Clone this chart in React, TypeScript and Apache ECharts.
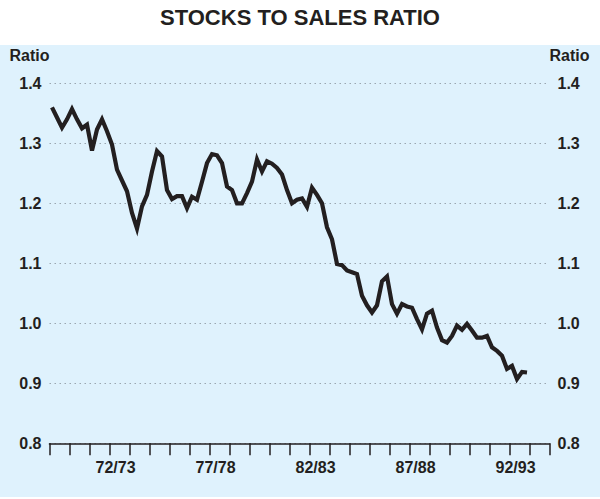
import React, { useEffect, useRef } from "react";
import * as echarts from "echarts";

// Fiscal years shown on the horizontal axis (one interval per year)
const years = [
  "69/70", "70/71", "71/72", "72/73", "73/74", "74/75", "75/76", "76/77", "77/78",
  "78/79", "79/80", "80/81", "81/82", "82/83", "83/84", "84/85", "85/86", "86/87",
  "87/88", "88/89", "89/90", "90/91", "91/92", "92/93", "93/94",
];
const labelledYears = ["72/73", "77/78", "82/83", "87/88", "92/93"];

// Quarterly stocks-to-sales ratio, starting Sep quarter 1969
const ratio = [
  1.360, 1.343, 1.326, 1.340, 1.357, 1.340, 1.325, 1.331,
  1.288, 1.323, 1.340, 1.320, 1.298, 1.256, 1.238, 1.220,
  1.184, 1.158, 1.195, 1.214, 1.253, 1.287, 1.278, 1.222,
  1.207, 1.212, 1.212, 1.192, 1.211, 1.206, 1.236, 1.267,
  1.282, 1.280, 1.267, 1.228, 1.222, 1.200, 1.200, 1.217,
  1.236, 1.273, 1.253, 1.270, 1.266, 1.259, 1.248, 1.222,
  1.200, 1.206, 1.208, 1.194, 1.226, 1.214, 1.200, 1.160,
  1.140, 1.099, 1.097, 1.088, 1.085, 1.082, 1.046, 1.030,
  1.018, 1.030, 1.070, 1.078, 1.032, 1.016, 1.032, 1.028,
  1.026, 1.007, 0.990, 1.016, 1.021, 0.993, 0.972, 0.968,
  0.979, 0.996, 0.989, 0.999, 0.988, 0.976, 0.976, 0.979,
  0.960, 0.954, 0.946, 0.924, 0.929, 0.907, 0.919, 0.918,
];

const yTicks = { min: 0.8, max: 1.4, step: 0.1 };

const FONT = "'Liberation Sans', Arial, Helvetica, sans-serif";
const INK = "#231f20";

export default function App() {
  const ref = useRef<HTMLDivElement>(null);

  useEffect(() => {
    if (!ref.current) return;
    const chart = echarts.init(ref.current, undefined, { renderer: "svg" });

    const seriesData = ratio.map((v, i) => [0.125 + 0.25 * i, v]);

    const yAxisBase = {
      type: "value",
      min: yTicks.min,
      max: yTicks.max,
      interval: yTicks.step,
      name: "Ratio",
      nameLocation: "end",
      nameGap: 20,
      axisLine: { show: false },
      axisTick: { show: false },
      axisLabel: {
        formatter: (v: number) => v.toFixed(1),
        fontSize: 16,
        fontWeight: "bold",
        color: INK,
        fontFamily: FONT,
        margin: 8,
      },
    };

    chart.setOption({
      animation: false,
      textStyle: { fontFamily: FONT },
      title: {
        text: "STOCKS TO SALES RATIO",
        left: "center",
        top: 1,
        textStyle: { fontSize: 22, fontWeight: "bold", color: INK, fontFamily: FONT },
      },
      graphic: [
        {
          type: "rect",
          z: -100,
          shape: { x: 0, y: 45, width: 600, height: 452 },
          style: { fill: "#dff2fd" },
        },
      ],
      grid: { left: 49.5, right: 50.5, top: 83.3, bottom: 55.7, containLabel: false },
      xAxis: [
        {
          type: "category",
          data: years,
          boundaryGap: true,
          position: "bottom",
          axisLine: { show: true, lineStyle: { color: INK, width: 1.6 } },
          axisTick: {
            show: true,
            interval: 0,
            length: 12,
            inside: false,
            lineStyle: { color: INK, width: 1.5 },
          },
          axisLabel: {
            interval: (index: number) => labelledYears.includes(years[index]),
            fontSize: 16,
            fontWeight: "bold",
            color: INK,
            fontFamily: FONT,
            margin: 16,
            padding: [0, 8, 0, 0],
          },
          splitLine: { show: false },
        },
        { type: "value", min: 0, max: years.length, show: false },
      ],
      yAxis: [
        {
          ...yAxisBase,
          position: "left",
          nameTextStyle: {
            fontSize: 16,
            fontWeight: "bold",
            color: INK,
            fontFamily: FONT,
            align: "right",
            verticalAlign: "bottom",
          },
          splitLine: {
            show: true,
            lineStyle: { color: "#9aa7b0", width: 1, type: [1.5, 3.5] },
          },
        },
        {
          ...yAxisBase,
          position: "right",
          nameTextStyle: {
            fontSize: 16,
            fontWeight: "bold",
            color: INK,
            fontFamily: FONT,
            align: "left",
            verticalAlign: "bottom",
          },
          splitLine: { show: false },
        },
      ],
      series: [
        {
          name: "Stocks to sales ratio",
          type: "line",
          xAxisIndex: 1,
          yAxisIndex: 0,
          data: seriesData,
          showSymbol: false,
          symbol: "none",
          lineStyle: { color: INK, width: 4.2, join: "miter" },
          z: 5,
        },
      ],
    });

    return () => chart.dispose();
  }, []);

  return (
    <div
      ref={ref}
      style={{ position: "fixed", left: 0, top: 0, width: 600, height: 499, background: "#ffffff" }}
    />
  );
}
